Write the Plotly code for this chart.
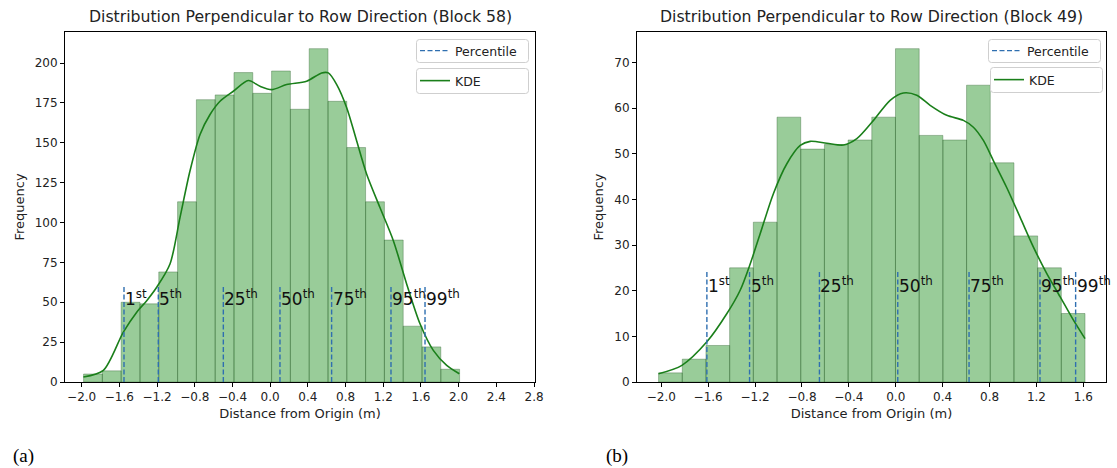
import numpy as np
import plotly.graph_objects as go

W, H = 1117, 468
FONT = "DejaVu Sans"
TXT = "#222222"

# ---- Block 58: histogram counts, bin limits, KDE curve, percentiles ----
COUNTS_A = [5, 7, 50, 49, 69, 113, 177, 180, 194, 181, 195, 171, 209, 176,
            147, 113, 89, 35, 22, 8]
BIN_LO_A, BIN_HI_A = -1.98, 2.01
KDE_X_A = [-1.982, -1.770, -1.558, -1.416, -1.310, -1.204, -1.063, -0.957,
           -0.851, -0.744, -0.638, -0.532, -0.391, -0.232, -0.108, 0.016,
           0.175, 0.387, 0.546, 0.617, 0.706, 0.812, 0.918, 1.024, 1.165,
           1.307, 1.448, 1.590, 1.731, 1.873, 2.007]
KDE_Y_A = [3.1, 7.3, 31.3, 43.8, 51.0, 59.4, 74.0, 103.1, 132.3, 155.2,
           167.7, 176.0, 182.3, 189.0, 185.4, 183.3, 186.5, 188.6, 193.8,
           193.8, 186.5, 172.0, 151.1, 130.3, 109.4, 88.6, 61.5, 36.5, 19.8,
           10.4, 5.2]
PCT_A = [-1.551, -1.187, -0.497, 0.104, 0.652, 1.282, 1.643]

# ---- Block 49 ----
COUNTS_B = [2, 5, 8, 25, 35, 58, 51, 52, 53, 58, 73, 54, 53, 65, 48, 32, 25, 15]
BIN_LO_B, BIN_HI_B = -2.023, 1.614
KDE_X_B = [-2.023, -1.824, -1.611, -1.440, -1.327, -1.241, -1.156, -1.043,
           -0.929, -0.815, -0.730, -0.588, -0.446, -0.332, -0.190, -0.048,
           0.065, 0.179, 0.293, 0.435, 0.577, 0.662, 0.747, 0.832, 0.946,
           1.060, 1.173, 1.287, 1.401, 1.514, 1.614]
KDE_Y_B = [1.8, 3.65, 8.8, 15.0, 20.1, 25.9, 32.5, 41.3, 47.8, 51.8, 52.7,
           52.3, 51.9, 53.3, 57.3, 61.7, 63.3, 62.8, 60.6, 58.4, 57.3, 55.8,
           52.9, 48.5, 42.6, 36.1, 29.6, 23.8, 18.7, 13.6, 9.5]
PCT_B = [-1.611, -1.247, -0.651, 0.017, 0.625, 1.230, 1.534]

PCT_LABELS = ["1<sup>st</sup>", "5<sup>th</sup>", "25<sup>th</sup>",
              "50<sup>th</sup>", "75<sup>th</sup>", "95<sup>th</sup>",
              "99<sup>th</sup>"]
TITLES = ["Distribution Perpendicular to Row Direction (Block 58)",
          "Distribution Perpendicular to Row Direction (Block 49)"]
PANEL_TAGS = ["(a)", "(b)"]

BAR_FILL = "rgba(0,128,0,0.4)"
BAR_EDGE = "rgba(40,90,40,0.45)"
KDE_COLOR = "#1a7f1a"
PCT_COLOR = "#2f6fb0"

fig = go.Figure()


def add_panel(counts, lo, hi, kx, ky, pcts, line_top, label_y, xa, ya,
              leg_pct, leg_kde):
    edges = np.linspace(lo, hi, len(counts) + 1)
    centers = (edges[:-1] + edges[1:]) / 2
    width = edges[1] - edges[0]
    fig.add_trace(go.Bar(
        x=centers, y=counts, width=width, xaxis=xa, yaxis=ya,
        marker=dict(color=BAR_FILL, line=dict(color=BAR_EDGE, width=0.8)),
        showlegend=False, hoverinfo="skip"))
    fig.add_trace(go.Scatter(
        x=kx, y=ky, xaxis=xa, yaxis=ya, mode="lines", name="KDE",
        line=dict(color=KDE_COLOR, width=1.6, shape="spline", smoothing=0.8),
        legend=leg_kde))
    vx, vy = [], []
    for p in pcts:
        vx += [p, p, None]
        vy += [0, line_top, None]
    fig.add_trace(go.Scatter(
        x=vx, y=vy, xaxis=xa, yaxis=ya, mode="lines", name="Percentile",
        line=dict(color=PCT_COLOR, width=1.4, dash="5px,2.5px"),
        legend=leg_pct))
    for p, lab in zip(pcts, PCT_LABELS):
        fig.add_annotation(
            x=p, y=label_y, xref=xa, yref=ya, text=lab, showarrow=False,
            xanchor="left", yanchor="middle", xshift=-1,
            font=dict(family=FONT, size=17, color="#111111"))


add_panel(COUNTS_A, BIN_LO_A, BIN_HI_A, KDE_X_A, KDE_Y_A, PCT_A,
          59.5, 52.5, "x", "y", "legend", "legend2")
add_panel(COUNTS_B, BIN_LO_B, BIN_HI_B, KDE_X_B, KDE_Y_B, PCT_B,
          24.4, 21.2, "x2", "y2", "legend3", "legend4")

axis_common = dict(
    showline=True, linecolor="black", linewidth=1, mirror=True,
    ticks="outside", ticklen=4, tickwidth=1, tickcolor="black",
    showgrid=False, zeroline=False, automargin=False,
    tickfont=dict(family=FONT, size=12, color=TXT))

dom_a = [65 / W, 535 / W]
dom_b = [637 / W, 1106 / W]
dom_y = [1 - 382 / H, 1 - 32 / H]

xtitle = dict(text="Distance from Origin (m)",
              font=dict(family=FONT, size=13, color=TXT), standoff=5)
ytitle = dict(text="Frequency", font=dict(family=FONT, size=13, color=TXT),
              standoff=7)

legend_common = dict(xanchor="left", yanchor="middle",
                     bgcolor="rgba(0,0,0,0)", borderwidth=0,
                     font=dict(family=FONT, size=12.5, color=TXT),
                     itemwidth=30, tracegroupgap=0)


def px_x(p):
    return p / W


def px_y(p):
    return 1 - p / H


def frame_path(x0, y0, x1, y1, r=3):
    """Rounded rectangle given in pixel coordinates, returned in paper units."""
    rx, ry = r / W, r / H
    a, b, c, d = px_x(x0), px_x(x1), px_y(y0), px_y(y1)
    return (f"M{a + rx},{c} L{b - rx},{c} Q{b},{c} {b},{c - ry} "
            f"L{b},{d + ry} Q{b},{d} {b - rx},{d} L{a + rx},{d} "
            f"Q{a},{d} {a},{d + ry} L{a},{c - ry} Q{a},{c} {a + rx},{c} Z")


# legend frames (pixel boxes: left, top, right, bottom)
FRAMES = [(416.5, 39.5, 528.5, 62.5), (416.5, 68.5, 528.5, 93.5),
          (988.5, 39.5, 1100.5, 62.5), (990.5, 67.5, 1102.5, 92.5)]
shapes = [dict(type="path", path=frame_path(*f), xref="paper", yref="paper",
               fillcolor="white", line=dict(color="#cfcfcf", width=1),
               layer="above") for f in FRAMES]

fig.update_layout(
    width=W, height=H, template="none",
    margin=dict(l=0, r=0, t=0, b=0),
    paper_bgcolor="white", plot_bgcolor="white",
    font=dict(family=FONT, color=TXT),
    barmode="overlay", hovermode=False, shapes=shapes,
    xaxis=dict(axis_common, domain=dom_a, range=[-2.177, 2.81], tick0=-2.0,
               dtick=0.4, tickformat=".1f", title=xtitle, anchor="y"),
    yaxis=dict(axis_common, domain=dom_y, range=[0, 219.45], tick0=0,
               dtick=25, title=ytitle, anchor="x"),
    xaxis2=dict(axis_common, domain=dom_b, range=[-2.207, 1.793], tick0=-2.0,
                dtick=0.4, tickformat=".1f", title=xtitle, anchor="y2"),
    yaxis2=dict(axis_common, domain=dom_y, range=[0, 76.65], tick0=0,
                dtick=10, title=ytitle, anchor="x2"),
    legend=dict(legend_common, x=px_x(415), y=px_y(51)),
    legend2=dict(legend_common, x=px_x(415), y=px_y(81)),
    legend3=dict(legend_common, x=px_x(987), y=px_y(51)),
    legend4=dict(legend_common, x=px_x(989), y=px_y(80)),
)

for dom, title in zip([dom_a, dom_b], TITLES):
    fig.add_annotation(x=(dom[0] + dom[1]) / 2, y=px_y(17), xref="paper",
                       yref="paper", text=title, showarrow=False,
                       xanchor="center", yanchor="middle",
                       font=dict(family=FONT, size=15.7, color=TXT))

for xpix, tag in zip([11, 604], PANEL_TAGS):
    fig.add_annotation(x=px_x(xpix), y=px_y(456), xref="paper", yref="paper",
                       text=tag, showarrow=False, xanchor="left",
                       yanchor="middle",
                       font=dict(family="Liberation Serif", size=19,
                                 color="black"))

fig.write_html("out.html")
